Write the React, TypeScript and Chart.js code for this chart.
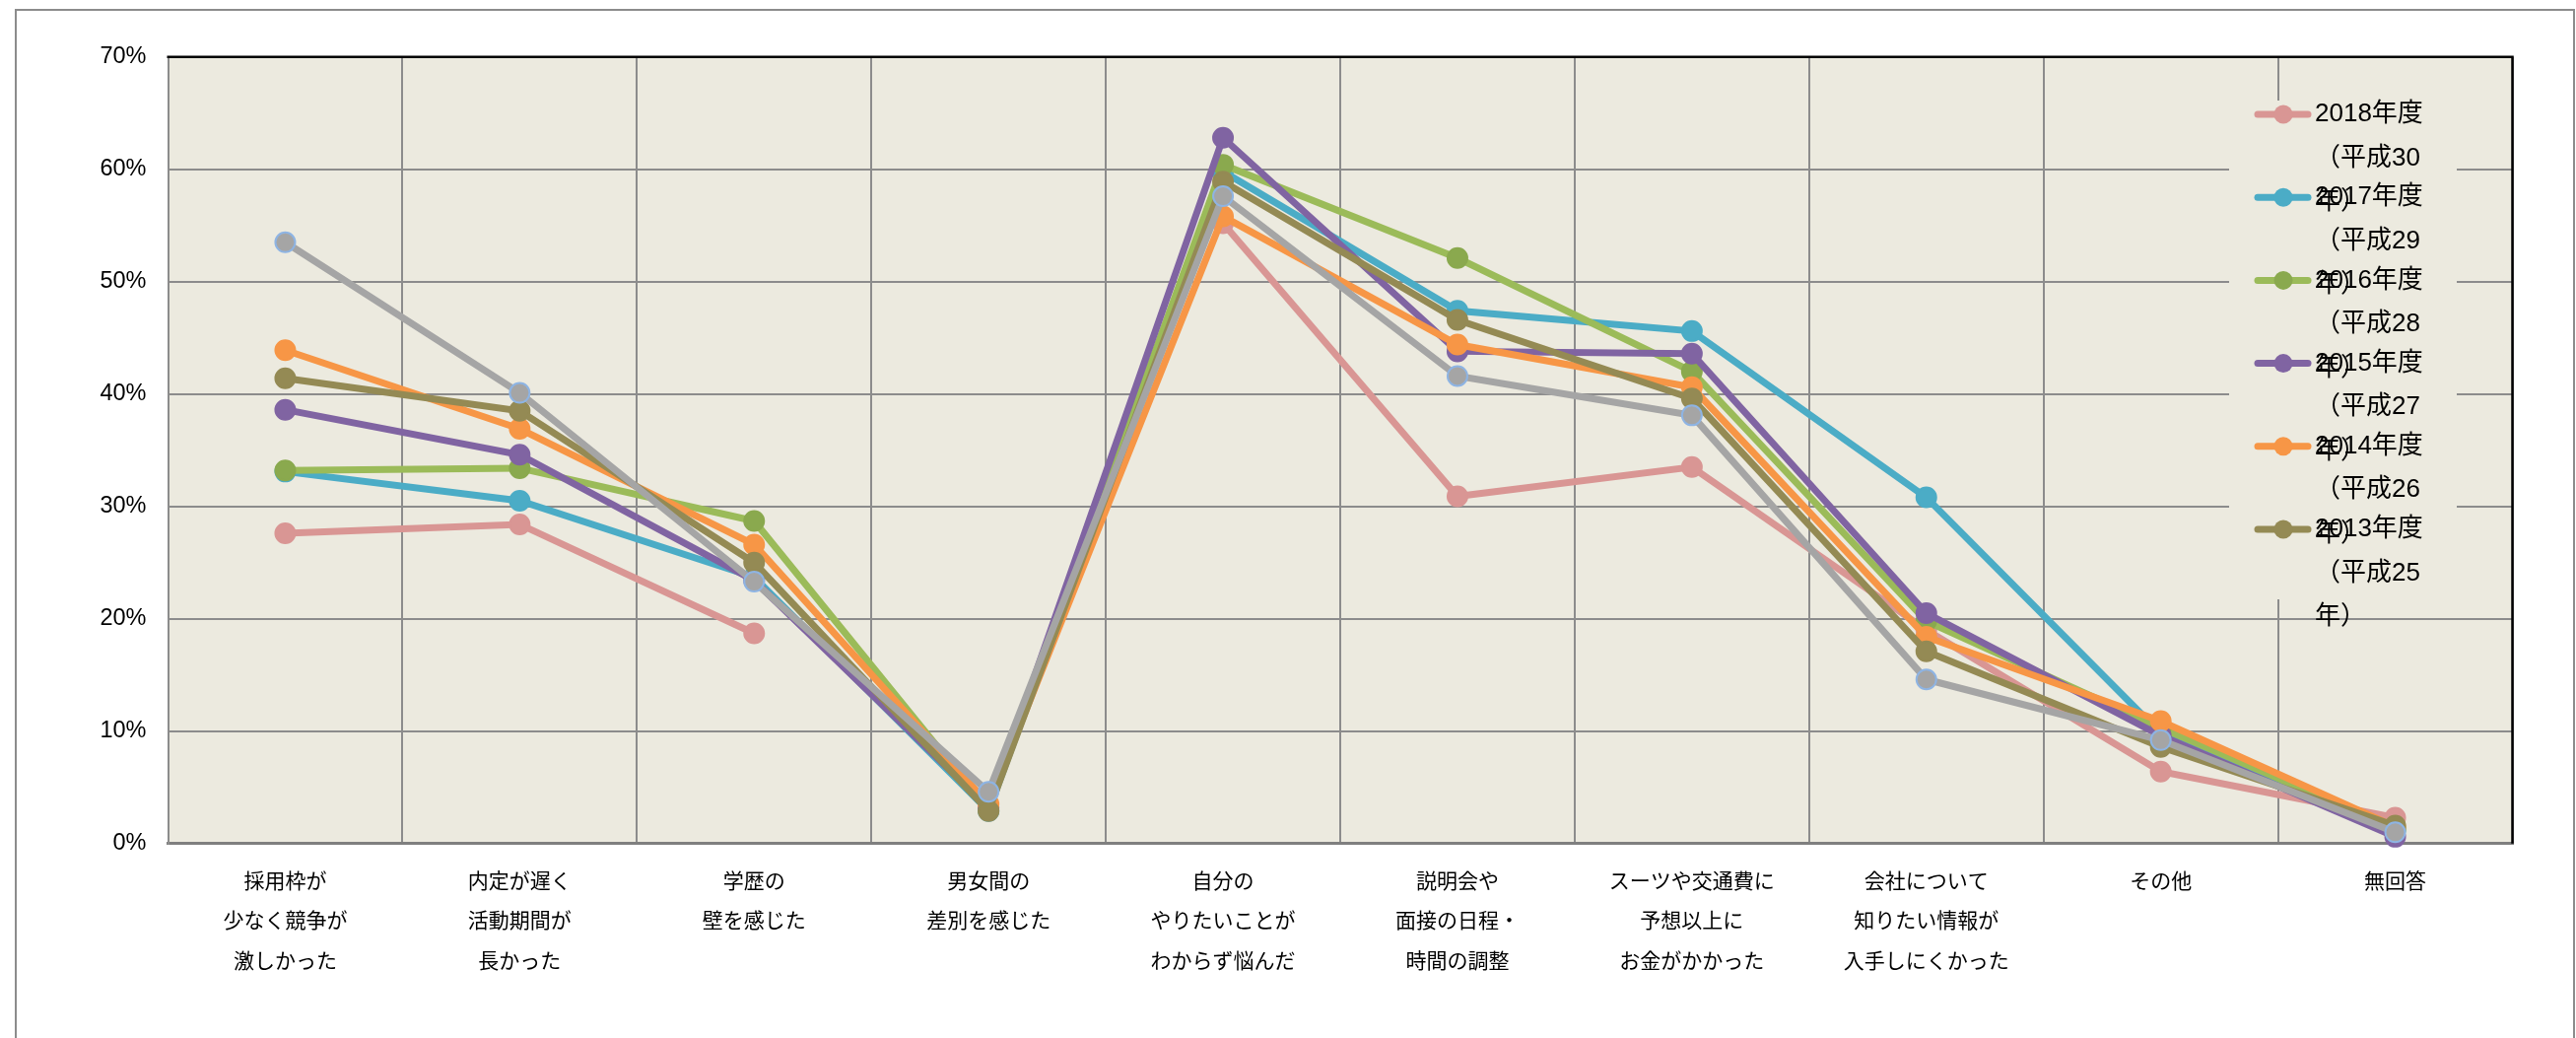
import React, { useEffect, useRef } from 'react';
import { Chart, registerables } from 'chart.js';
Chart.register(...registerables);

const categories: string[][] = [
  ['採用枠が', '少なく競争が', '激しかった'],
  ['内定が遅く', '活動期間が', '長かった'],
  ['学歴の', '壁を感じた'],
  ['男女間の', '差別を感じた'],
  ['自分の', 'やりたいことが', 'わからず悩んだ'],
  ['説明会や', '面接の日程・', '時間の調整'],
  ['スーツや交通費に', '予想以上に', 'お金がかかった'],
  ['会社について', '知りたい情報が', '入手しにくかった'],
  ['その他'],
  ['無回答'],
];

const y2018 = [27.6, 28.4, 18.7, null, 55.2, 30.9, 33.5, 19.0, 6.4, 2.3];
const y2017 = [33.1, 30.5, 23.7, 2.9, 59.8, 47.4, 45.6, 30.8, 9.8, 1.2];
const y2016 = [33.2, 33.4, 28.7, 3.0, 60.4, 52.1, 42.0, 19.8, 10.3, 1.3];
const y2015 = [38.6, 34.6, 23.4, 3.2, 62.8, 43.8, 43.6, 20.5, 9.6, 0.6];
const y2014 = [43.9, 36.9, 26.6, 3.5, 55.8, 44.4, 40.6, 18.4, 10.9, 1.5];
const y2013 = [41.4, 38.5, 25.0, 2.9, 58.9, 46.6, 39.6, 17.1, 8.6, 1.6];
const y2012 = [53.5, 40.1, 23.3, 4.6, 57.6, 41.6, 38.1, 14.6, 9.2, 1.0];

const legendLabels: string[][] = [
  ['2018年度', '（平成30', '年）'],
  ['2017年度', '（平成29', '年）'],
  ['2016年度', '（平成28', '年）'],
  ['2015年度', '（平成27', '年）'],
  ['2014年度', '（平成26', '年）'],
  ['2013年度', '（平成25', '年）'],
];

const yTicks = [0, 10, 20, 30, 40, 50, 60, 70];

const FONT = '"Liberation Sans", Arial, "Noto Sans CJK JP", sans-serif';

const W = 2614;
const H = 1053;
const AREA = { left: 170.5, top: 57.7, right: 2549.5, bottom: 855.7 };

export default function App() {
  const ref = useRef<HTMLCanvasElement | null>(null);

  useEffect(() => {
    const canvas = ref.current;
    if (!canvas) return;

    const series = [
      { label: '2012年度（平成24年）', data: y2012, color: '#A5A5A5', marker: '#A5A5A5', mborder: '#8EB4E3', order: 0, legend: -1 },
      { label: '2013年度（平成25年）', data: y2013, color: '#948A54', marker: '#948A54', mborder: '#948A54', order: 1, legend: 5 },
      { label: '2014年度（平成26年）', data: y2014, color: '#F79646', marker: '#F79646', mborder: '#F79646', order: 2, legend: 4 },
      { label: '2015年度（平成27年）', data: y2015, color: '#8064A2', marker: '#8064A2', mborder: '#8064A2', order: 3, legend: 3 },
      { label: '2016年度（平成28年）', data: y2016, color: '#9BBB59', marker: '#8AA94E', mborder: '#8AA94E', order: 4, legend: 2 },
      { label: '2017年度（平成29年）', data: y2017, color: '#4BACC6', marker: '#4BACC6', mborder: '#4BACC6', order: 5, legend: 1 },
      { label: '2018年度（平成30年）', data: y2018, color: '#D99694', marker: '#D99694', mborder: '#D99694', order: 6, legend: 0 },
    ];

    const legendColors: { line: string; marker: string }[] = [];
    series.forEach((s) => {
      if (s.legend >= 0) legendColors[s.legend] = { line: s.color, marker: s.marker };
    });

    const framePlugin = {
      id: 'frame',
      beforeDraw(chart: any) {
        const ctx = chart.ctx;
        const a = chart.chartArea;
        ctx.save();
        ctx.fillStyle = '#FFFFFF';
        ctx.fillRect(0, 0, chart.width, chart.height);
        ctx.strokeStyle = '#8C8C8C';
        ctx.lineWidth = 2;
        ctx.strokeRect(16, 10, 2596, 1100);
        ctx.fillStyle = '#ECEADF';
        ctx.fillRect(a.left, a.top, a.right - a.left, a.bottom - a.top);
        ctx.restore();
      },
      beforeDatasetsDraw(chart: any) {
        const ctx = chart.ctx;
        const a = chart.chartArea;
        ctx.save();
        ctx.fillStyle = '#ECEADF';
        ctx.fillRect(2262, 102, 2493 - 2262, 608 - 102);
        ctx.strokeStyle = '#000000';
        ctx.lineWidth = 2.5;
        ctx.beginPath();
        ctx.moveTo(a.left - 1, a.top);
        ctx.lineTo(a.right, a.top);
        ctx.lineTo(a.right, a.bottom);
        ctx.stroke();
        ctx.restore();
      },
      afterDatasetsDraw(chart: any) {
        const ctx = chart.ctx;
        ctx.save();
        const x0 = 2291;
        const x1 = 2342;
        const xm = 2317;
        const tx = 2349;
        legendLabels.forEach((lines, i) => {
          const y = 116 + 84.2 * i;
          const c = legendColors[i];
          ctx.strokeStyle = c.line;
          ctx.lineWidth = 7;
          ctx.lineCap = 'round';
          ctx.beginPath();
          ctx.moveTo(x0, y);
          ctx.lineTo(x1, y);
          ctx.stroke();
          ctx.fillStyle = c.marker;
          ctx.beginPath();
          ctx.arc(xm, y, 9.5, 0, Math.PI * 2);
          ctx.fill();
          ctx.fillStyle = '#000000';
          ctx.font = '26px ' + FONT;
          ctx.textAlign = 'left';
          ctx.textBaseline = 'middle';
          lines.forEach((t, j) => {
            ctx.fillText(t, tx, y + 44.5 * j);
          });
        });
        ctx.restore();
      },
    };

    const chart = new Chart(canvas, {
      type: 'line',
      data: {
        labels: categories,
        datasets: series.map((s) => ({
          label: s.label,
          data: s.data,
          borderColor: s.color,
          backgroundColor: s.color,
          borderWidth: 7,
          pointRadius: 10,
          pointHoverRadius: 10,
          pointBackgroundColor: s.marker,
          pointBorderColor: s.mborder,
          pointBorderWidth: 2,
          tension: 0,
          fill: false,
          spanGaps: false,
          order: s.order,
          clip: false as any,
        })),
      },
      options: {
        animation: false,
        responsive: false,
        devicePixelRatio: 1,
        layout: {
          padding: { top: AREA.top, right: W - AREA.right, bottom: 0, left: 0 },
        },
        plugins: {
          legend: { display: false },
          tooltip: { enabled: false },
          title: { display: false },
        },
        scales: {
          x: {
            type: 'category',
            offset: true,
            grid: {
              offset: true,
              color: '#8C8C8C',
              lineWidth: 2,
              drawTicks: false,
            },
            border: { color: '#7F7F7F', width: 3 },
            ticks: {
              autoSkip: false,
              maxRotation: 0,
              minRotation: 0,
              padding: 19,
              color: '#000000',
              font: { family: FONT, size: 21, lineHeight: 1.93 },
            },
            afterFit(scale: any) {
              scale.height = H - AREA.bottom;
            },
          },
          y: {
            min: 0,
            max: 70,
            afterBuildTicks(scale: any) {
              scale.ticks = yTicks.map((v) => ({ value: v }));
            },
            grid: {
              color: '#8C8C8C',
              lineWidth: 2,
              drawTicks: false,
            },
            border: { color: '#8C8C8C', width: 2 },
            ticks: {
              padding: 22,
              color: '#000000',
              font: { family: FONT, size: 23.5 },
              callback: (v: any) => v + '%',
            },
            afterFit(scale: any) {
              scale.width = AREA.left;
            },
          },
        },
      },
      plugins: [framePlugin],
    } as any);

    return () => chart.destroy();
  }, []);

  return (
    <div style={{ position: 'fixed', left: 0, top: 0, width: W, height: H, background: '#fff' }}>
      <canvas ref={ref} width={W} height={H} style={{ display: 'block', width: W, height: H }} />
    </div>
  );
}
